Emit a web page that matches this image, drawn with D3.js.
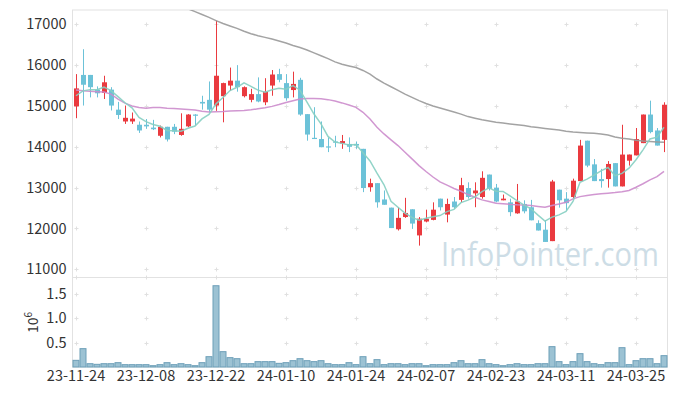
<!DOCTYPE html>
<html>
<head>
<meta charset="utf-8">
<script src="https://cdn.jsdelivr.net/npm/d3@7"></script>
<style>
  body { margin: 0; background: #fff; }
  text { font-family: "Noto Sans CJK KR", "Noto Sans", sans-serif; fill: #333; }
</style>
</head>
<body>
<script>
// trading days (YY-MM-DD)
const dates = [
  "23-11-24","23-11-27","23-11-28","23-11-29","23-11-30","23-12-01","23-12-04","23-12-05","23-12-06","23-12-07",
  "23-12-08","23-12-11","23-12-12","23-12-13","23-12-14","23-12-15","23-12-18","23-12-19","23-12-20","23-12-21",
  "23-12-22","23-12-26","23-12-27","23-12-28","24-01-02","24-01-03","24-01-04","24-01-05","24-01-08","24-01-09",
  "24-01-10","24-01-11","24-01-12","24-01-15","24-01-16","24-01-17","24-01-18","24-01-19","24-01-22","24-01-23",
  "24-01-24","24-01-25","24-01-26","24-01-29","24-01-30","24-01-31","24-02-01","24-02-02","24-02-05","24-02-06",
  "24-02-07","24-02-08","24-02-13","24-02-14","24-02-15","24-02-16","24-02-19","24-02-20","24-02-21","24-02-22",
  "24-02-23","24-02-26","24-02-27","24-02-28","24-02-29","24-03-04","24-03-05","24-03-06","24-03-07","24-03-08",
  "24-03-11","24-03-12","24-03-13","24-03-14","24-03-15","24-03-18","24-03-19","24-03-20","24-03-21","24-03-22",
  "24-03-25","24-03-26","24-03-27","24-03-28","24-03-29"
];

const open = [
  14990,15760,15760,15400,15320,15400,14910,14620,14620,14540,
  14540,14470,14270,14490,14490,14290,14500,14790,15100,15150,
  15010,15240,15500,15620,15240,15150,15290,15090,15500,15780,
  15560,15390,15640,14800,14220,14190,14010,14130,14080,14070,
  14070,13950,13010,13110,12710,12510,11980,12280,12470,11830,
  12170,12210,12730,12340,12660,12700,12990,12860,12770,13320,
  13000,12690,12640,12370,12600,12520,12130,11970,11690,12950,
  12730,12770,13160,14150,13570,13210,13210,13600,13030,13660,
  13790,14090,14790,14400,14170
];
const high = [
  15780,16390,15760,15480,15740,15460,15100,15010,14840,14620,
  14680,14660,14520,14490,14560,14820,14800,14800,15250,15600,
  17090,15570,15940,16000,15480,15420,15700,15680,15880,15910,
  15780,15840,15690,14800,14970,14620,14230,14270,14290,14230,
  14130,13950,13220,13110,12930,12510,12510,12750,12470,12280,
  12460,12640,12730,12730,12770,13240,13130,13130,13400,13320,
  13090,12830,12730,13090,12690,12700,12200,12200,13190,12950,
  12890,13220,14170,14150,13700,13460,13650,13600,14540,13810,
  14460,14790,15130,14460,15090
];
const low = [
  14700,15010,15210,15210,15170,14890,14680,14560,14560,14340,
  14440,14410,14230,14130,14310,14270,14480,14520,14910,14840,
  14880,14600,15370,15350,15210,15090,15090,15020,15250,15580,
  15130,15210,14760,14150,14190,13990,13870,13990,13950,13870,
  13950,12890,12900,12510,12580,12010,11950,12260,11990,11580,
  12150,12200,12440,12150,12480,12640,12730,12520,12730,12930,
  12640,12690,12300,12360,12370,12200,11950,11670,11690,12510,
  12440,12730,13160,13500,13160,13000,13000,13030,13030,13540,
  13790,14090,14330,14030,13870
];
const close = [
  15430,15520,15460,15310,15580,15010,14780,14710,14690,14400,
  14500,14430,14490,14180,14370,14440,14790,14760,15060,14910,
  15740,15560,15620,15460,15460,15290,15110,15350,15770,15640,
  15190,15540,14790,14300,14190,13990,14000,14100,14140,14000,
  14030,12990,13110,12640,12580,12010,12260,12380,12120,12240,
  12240,12460,12520,12600,12520,13060,12770,12930,13240,12970,
  12660,12730,12400,12660,12420,12200,11950,11670,13150,12690,
  12620,13170,14030,13540,13160,13160,13580,13030,13810,13810,
  14190,14790,14360,14030,15030
];
const volume = [
  137000,377000,68000,55000,68000,68000,89000,48000,48000,48000,
  48000,27000,48000,89000,48000,68000,48000,27000,89000,212000,
  1670000,315000,192000,171000,68000,68000,110000,110000,110000,75000,
  89000,130000,171000,130000,110000,130000,68000,48000,48000,89000,
  48000,212000,68000,151000,48000,68000,68000,48000,68000,68000,
  27000,48000,48000,48000,89000,130000,68000,68000,151000,68000,
  48000,27000,48000,68000,48000,48000,68000,68000,418000,110000,
  48000,110000,274000,110000,68000,48000,89000,89000,397000,48000,
  130000,171000,171000,68000,233000
];

// 5-day average: first four points, rest from closes
const ma5Head = [15250, 15370, 15400, 15400];
const ma20 = [
  15390,15370,15360,15350,15340,15290,15170,15070,15000,14960,
  14945,14960,14960,14945,14935,14925,14915,14900,14870,14855,
  14860,14865,14875,14885,14890,14905,14930,14955,14990,15035,
  15085,15130,15170,15185,15185,15175,15155,15120,15075,15025,
  14965,14845,14680,14480,14315,14170,14030,13865,13705,13540,
  13395,13260,13140,13060,12980,12910,12830,12765,12700,12660,
  12620,12605,12590,12580,12575,12560,12540,12520,12560,12600,
  12640,12725,12780,12805,12830,12850,12865,12880,12900,12930,
  13010,13095,13190,13270,13400
];
const ma60 = [
  null,null,null,null,null,null,null,null,null,null,
  null,null,null,null,null,null,17380,17310,17240,17170,
  17090,17020,16960,16900,16830,16770,16720,16680,16640,16590,
  16540,16480,16430,16370,16300,16230,16160,16080,16020,15980,
  15940,15870,15780,15660,15560,15470,15380,15290,15210,15130,
  15060,15000,14950,14900,14850,14800,14740,14700,14660,14630,
  14600,14580,14560,14540,14520,14490,14470,14450,14430,14410,
  14380,14360,14350,14340,14330,14315,14290,14240,14210,14190,
  14160,14140,14130,14120,14110
];

const priceTicks = [11000, 12000, 13000, 14000, 15000, 16000, 17000];
const volumeTicks = [500000, 1000000, 1500000];
const xTickLabels = ["23-11-24","23-12-08","23-12-22","24-01-10","24-01-24","24-02-07","24-02-23","24-03-11","24-03-25"];

const ma5 = close.map((c, i) => i < 4 ? ma5Head[i] : d3.mean(close.slice(i - 4, i + 1)));

const width = 677, height = 396;
const plot = { left: 72.5, right: 667.5, top: 10, mid: 277.5, bottom: 367 };

const svg = d3.select("body").append("svg")
    .attr("width", width)
    .attr("height", height);

// scales
const x = d3.scaleBand().domain(dates).range([plot.left, plot.right]).padding(0);
const cx = d => x(d) + x.bandwidth() / 2;
const y = d3.scaleLinear().domain([11000, 17000]).range([269.3, 24.3]);
const yv = d3.scaleLinear().domain([0, 1500000]).range([plot.bottom, 294]);

svg.append("clipPath").attr("id", "clip-price")
  .append("rect")
    .attr("x", plot.left).attr("y", plot.top)
    .attr("width", plot.right - plot.left).attr("height", plot.mid - plot.top);

// frame
svg.append("rect")
    .attr("x", plot.left).attr("y", plot.top)
    .attr("width", plot.right - plot.left).attr("height", plot.bottom - plot.top)
    .attr("fill", "none").attr("stroke", "#e2e2e2");
svg.append("line")
    .attr("x1", plot.left).attr("x2", plot.right)
    .attr("y1", plot.mid).attr("y2", plot.mid)
    .attr("stroke", "#e2e2e2");

// grid crosses
const cross = (px, py) => `M${px - 2},${py}H${px + 2}M${px},${py - 2}V${py + 2}`;
const gx = xTickLabels.map(d => Math.round(cx(d)) + 0.5);
const gy = priceTicks.map(v => Math.round(y(v)) + 0.5)
  .concat([plot.mid])
  .concat(volumeTicks.map(v => Math.round(yv(v)) + 0.5));
svg.append("path")
    .attr("d", gx.map(px => gy.map(py => cross(px, py)).join("")).join(""))
    .attr("stroke", "#e0e0e0")
    .attr("fill", "none");

// watermark, squeezed horizontally to the reference width
const mark = svg.append("text")
    .style("font-family", "'Open Sans', sans-serif")
    .style("font-size", "32px")
    .style("fill", "#cddde6")
    .text("InfoPointer.com");
const markScale = 218 / mark.node().getComputedTextLength();
mark.attr("transform", `translate(441,266) scale(${markScale},1)`);

// candles
const price = svg.append("g").attr("clip-path", "url(#clip-price)");
const up = "#ea3a3f", down = "#6cc2d8";

price.selectAll(".wick")
  .data(dates)
  .enter().append("line")
    .attr("x1", d => Math.round(cx(d)) + 0.5)
    .attr("x2", d => Math.round(cx(d)) + 0.5)
    .attr("y1", (d, i) => y(high[i]))
    .attr("y2", (d, i) => y(low[i]))
    .attr("stroke", (d, i) => close[i] >= open[i] ? up : down);

price.selectAll(".body")
  .data(dates)
  .enter().append("rect")
    .attr("x", d => Math.round(cx(d)) - 2)
    .attr("width", 5)
    .attr("y", (d, i) => y(Math.max(open[i], close[i])))
    .attr("height", (d, i) => Math.max(1.2, Math.abs(y(open[i]) - y(close[i]))))
    .attr("fill", (d, i) => close[i] >= open[i] ? up : down);

// moving averages
const line = arr => d3.line()
    .defined((d, i) => arr[i] != null)
    .x(d => cx(d))
    .y((d, i) => y(arr[i]))(dates);

price.append("path").attr("d", line(ma60))
    .attr("fill", "none").attr("stroke", "#999").attr("stroke-width", 1.5).attr("opacity", 0.9);
price.append("path").attr("d", line(ma20))
    .attr("fill", "none").attr("stroke", "#cc8ccc").attr("stroke-width", 1.5).attr("opacity", 0.9);
price.append("path").attr("d", line(ma5))
    .attr("fill", "none").attr("stroke", "#86cfc2").attr("stroke-width", 1.5).attr("opacity", 0.9);

// volume bars
svg.append("g").selectAll("rect")
  .data(dates)
  .enter().append("rect")
    .attr("x", d => x(d) + 0.5)
    .attr("width", x.bandwidth() - 1)
    .attr("y", (d, i) => yv(volume[i]))
    .attr("height", (d, i) => plot.bottom - yv(volume[i]))
    .attr("fill", "#9cc2d3")
    .attr("stroke", "#6d9fb8");

// axes
const yAxis = svg.append("g")
    .attr("transform", `translate(${plot.left},0)`)
    .call(d3.axisLeft(y).tickValues(priceTicks).tickSize(0).tickPadding(6).tickFormat(d3.format("d")));
const vAxis = svg.append("g")
    .attr("transform", `translate(${plot.left},0)`)
    .call(d3.axisLeft(yv).tickValues(volumeTicks).tickSize(0).tickPadding(6).tickFormat(d => (d / 1e6).toFixed(1)));
const xAxis = svg.append("g")
    .attr("transform", `translate(0,${plot.bottom})`)
    .call(d3.axisBottom(x).tickValues(xTickLabels).tickSize(0).tickPadding(4));

[yAxis, vAxis, xAxis].forEach(g => {
  g.select(".domain").remove();
  g.selectAll("text")
      .style("font-family", "'Noto Sans CJK KR', 'Noto Sans', sans-serif")
      .style("font-size", "14.5px")
      .style("fill", "#333");
});

// volume unit label
const unit = svg.append("text")
    .attr("transform", "translate(38,333) rotate(-90)")
    .style("font-size", "14px");
unit.append("tspan").text("10");
unit.append("tspan").attr("dy", -6).style("font-size", "10px").text("6");
</script>
</body>
</html>
